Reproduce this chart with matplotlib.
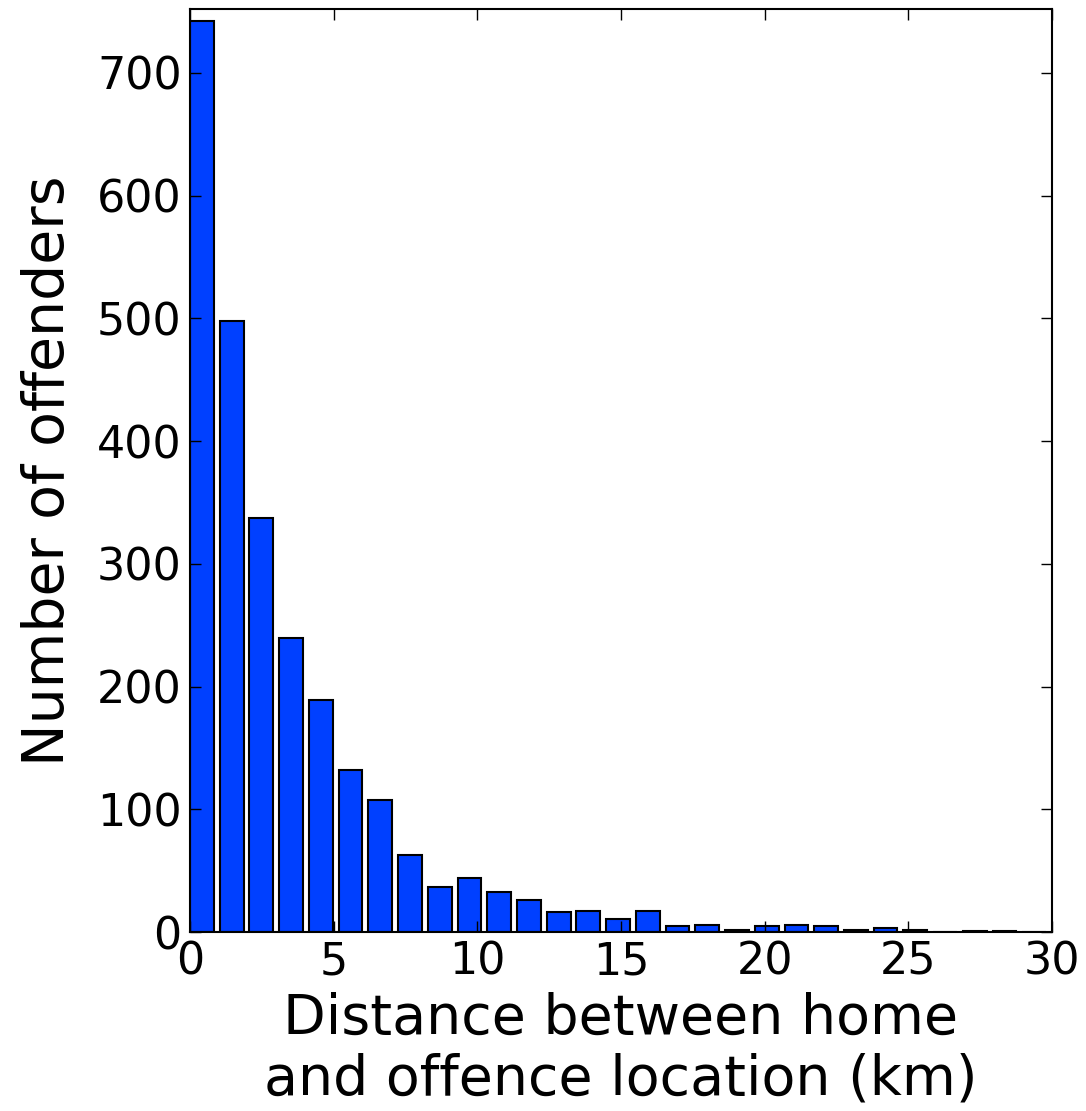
import numpy as np
import matplotlib
matplotlib.use('Agg')
import matplotlib.pyplot as plt

# histogram of home-to-offence distance, 29 bins over 0-30 km
max_distance = 30
n_bins = 29
counts = [742, 498, 337, 240, 189, 132, 108, 63, 37, 44,
          33, 26, 16, 17, 11, 17, 5, 6, 2, 5,
          6, 5, 2, 3, 2, 0, 1, 1, 0]

x_ticks = [0, 5, 10, 15, 20, 25, 30]
y_ticks = [0, 100, 200, 300, 400, 500, 600, 700]

bin_w = max_distance / n_bins
lefts = np.arange(n_bins) * bin_w

fig = plt.figure(figsize=(10.86, 11.11), dpi=100)
ax = fig.add_axes([0.175, 0.161, 0.7937, 0.8308])
ax.bar(lefts, counts, width=0.8 * bin_w, align='edge',
       color='#0040ff', edgecolor='black', linewidth=1.5)

ax.set_xlim(0, max_distance)
ax.set_ylim(0, 752)
ax.set_xticks(x_ticks)
ax.set_yticks(y_ticks)
ax.tick_params(direction='in', top=True, right=True, length=8, width=1,
               labelsize=32, pad=6)
for s in ax.spines.values():
    s.set_linewidth(1.5)

ax.set_xlabel('Distance between home\nand offence location (km)', fontsize=40,
              labelpad=6, linespacing=1.15)
ax.set_ylabel('Number of offenders', fontsize=41, labelpad=15)

fig.savefig('out.png', dpi=100)
